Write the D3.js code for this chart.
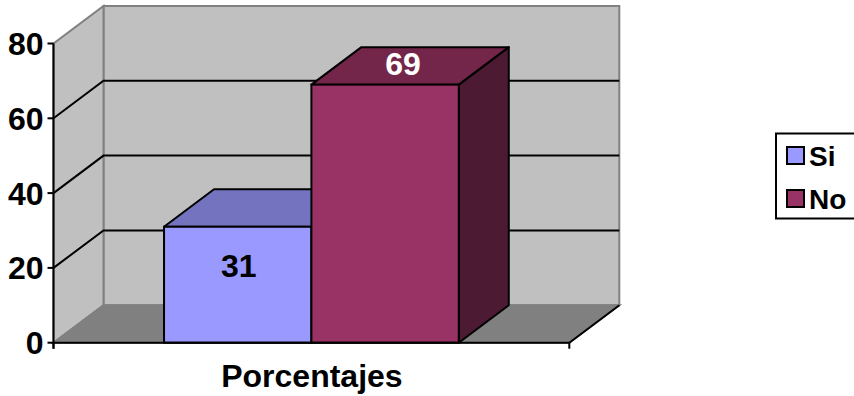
<!DOCTYPE html>
<html>
<head>
<meta charset="utf-8">
<script src="https://cdn.jsdelivr.net/npm/d3@7"></script>
<style>
  html, body { margin: 0; padding: 0; background: #ffffff; }
  svg { display: block; font-family: "Liberation Sans", Arial, sans-serif; font-weight: bold; }
</style>
</head>
<body>
<svg id="chart" width="854" height="396"></svg>
<script>
// Chart data
const categories = ["Porcentajes"];
const seriesNames = ["Si", "No"];
const seriesValues = [31, 69];
const yTicks = [0, 20, 40, 60, 80];

// Colours per series: front, top, side faces
const faceColors = [
  { front: "#9999ff", top: "#7373c0", side: "#5c5c99" },
  { front: "#993366", top: "#732649", side: "#4d1a33" }
];

const svg = d3.select("#chart");

// Plot frame (front plane) and 3D depth offset
const plotLeft = 53.5, plotRight = 569.3, plotBottom = 342.7, plotTop = 43.5;
const dx = 50, dy = -37.5;
const fontSize = 32;

const y = d3.scaleLinear().domain([0, 80]).range([plotBottom, plotTop]);
const x0 = d3.scaleBand().domain(categories).range([plotLeft, plotRight]);
const x1 = d3.scaleBand().domain(seriesNames).range([0, x0.bandwidth()])
  .paddingInner(0).paddingOuter(0.75);

const pts = a => a.map(p => p.join(",")).join(" ");
const yMax = y.domain()[1];

// Back wall
svg.append("polygon")
  .attr("points", pts([[plotLeft + dx, y(0) + dy], [plotRight + dx, y(0) + dy], [plotRight + dx, y(yMax) + dy], [plotLeft + dx, y(yMax) + dy]]))
  .attr("fill", "#c0c0c0").attr("stroke", "#808080").attr("stroke-width", 2);

// Side wall
svg.append("polygon")
  .attr("points", pts([[plotLeft, y(0)], [plotLeft + dx, y(0) + dy], [plotLeft + dx, y(yMax) + dy], [plotLeft, y(yMax)]]))
  .attr("fill", "#c0c0c0").attr("stroke", "#808080").attr("stroke-width", 2);

// Floor
svg.append("polygon")
  .attr("points", pts([[plotLeft, y(0)], [plotRight, y(0)], [plotRight + dx, y(0) + dy], [plotLeft + dx, y(0) + dy]]))
  .attr("fill", "#808080").attr("stroke", "#808080").attr("stroke-width", 2);
svg.append("line")
  .attr("x1", plotRight).attr("y1", y(0)).attr("x2", plotRight + dx).attr("y2", y(0) + dy)
  .attr("stroke", "#000").attr("stroke-width", 2);

// Gridlines across side and back walls
const inner = yTicks.filter(t => t > 0 && t < yMax);
svg.append("g").selectAll("polyline").data(inner).join("polyline")
  .attr("points", t => pts([[plotLeft, y(t)], [plotLeft + dx, y(t) + dy], [plotRight + dx, y(t) + dy]]))
  .attr("fill", "none").attr("stroke", "#000").attr("stroke-width", 2);

// Bars as 3D boxes
const bars = svg.append("g");
seriesNames.forEach((name, i) => {
  const v = seriesValues[i];
  const xa = x0(categories[0]) + x1(name);
  const xb = xa + x1.bandwidth();
  const yt = y(v), yb = y(0);
  const c = faceColors[i];
  const g = bars.append("g");
  g.append("polygon") // side
    .attr("points", pts([[xb, yb], [xb + dx, yb + dy], [xb + dx, yt + dy], [xb, yt]]))
    .attr("fill", c.side).attr("stroke", "#000").attr("stroke-width", 2).attr("stroke-linejoin", "round");
  g.append("polygon") // top
    .attr("points", pts([[xa, yt], [xb, yt], [xb + dx, yt + dy], [xa + dx, yt + dy]]))
    .attr("fill", c.top).attr("stroke", "#000").attr("stroke-width", 2).attr("stroke-linejoin", "round");
  g.append("rect") // front
    .attr("x", xa).attr("y", yt).attr("width", xb - xa).attr("height", yb - yt)
    .attr("fill", c.front).attr("stroke", "#000").attr("stroke-width", 2);
});

// Value labels
const maxVal = d3.max(seriesValues);
seriesNames.forEach((name, i) => {
  const v = seriesValues[i];
  const xa = x0(categories[0]) + x1(name);
  const isMax = v === maxVal;
  svg.append("text")
    .attr("x", xa + x1.bandwidth() / 2 + (isMax ? 18 : 1))
    .attr("y", isMax ? y(v) - 10 : y(v / 2) + dy / 2 + 11.5)
    .attr("text-anchor", "middle")
    .attr("font-size", fontSize)
    .attr("fill", isMax ? "#ffffff" : "#000000")
    .text(v);
});

// Value axis
svg.append("line")
  .attr("x1", plotLeft).attr("y1", y(0) + 6).attr("x2", plotLeft).attr("y2", y(yMax))
  .attr("stroke", "#000").attr("stroke-width", 2);
const yAxisG = svg.append("g");
yAxisG.selectAll("line").data(yTicks).join("line")
  .attr("x1", plotLeft - 6).attr("x2", plotLeft).attr("y1", d => y(d)).attr("y2", d => y(d))
  .attr("stroke", "#000").attr("stroke-width", 2);
yAxisG.selectAll("text").data(yTicks).join("text")
  .attr("x", plotLeft - 10).attr("y", d => y(d) + 11.5)
  .attr("text-anchor", "end").attr("font-size", fontSize).attr("fill", "#000")
  .text(d => d);

// Category axis
svg.append("line")
  .attr("x1", plotLeft).attr("y1", y(0)).attr("x2", plotRight).attr("y2", y(0))
  .attr("stroke", "#000").attr("stroke-width", 2);
svg.append("g").selectAll("line").data([plotLeft, plotRight]).join("line")
  .attr("x1", d => d).attr("x2", d => d).attr("y1", y(0)).attr("y2", y(0) + 6)
  .attr("stroke", "#000").attr("stroke-width", 2);
svg.append("g").selectAll("text").data(categories).join("text")
  .attr("x", d => x0(d) + x0.bandwidth() / 2 + 0.5)
  .attr("y", 387)
  .attr("text-anchor", "middle").attr("font-size", fontSize).attr("fill", "#000")
  .text(d => d);

// Legend
const legend = svg.append("g");
legend.append("rect")
  .attr("x", 776).attr("y", 133.5).attr("width", 100).attr("height", 85)
  .attr("fill", "#fff").attr("stroke", "#000").attr("stroke-width", 2);
seriesNames.forEach((name, i) => {
  const yy = 147 + i * 43;
  legend.append("rect")
    .attr("x", 787).attr("y", yy).attr("width", 17).attr("height", 17)
    .attr("fill", faceColors[i].front).attr("stroke", "#000").attr("stroke-width", 2);
  legend.append("text")
    .attr("x", 809).attr("y", yy + 19)
    .attr("font-size", 28).attr("fill", "#000")
    .text(name);
});
</script>
</body>
</html>
